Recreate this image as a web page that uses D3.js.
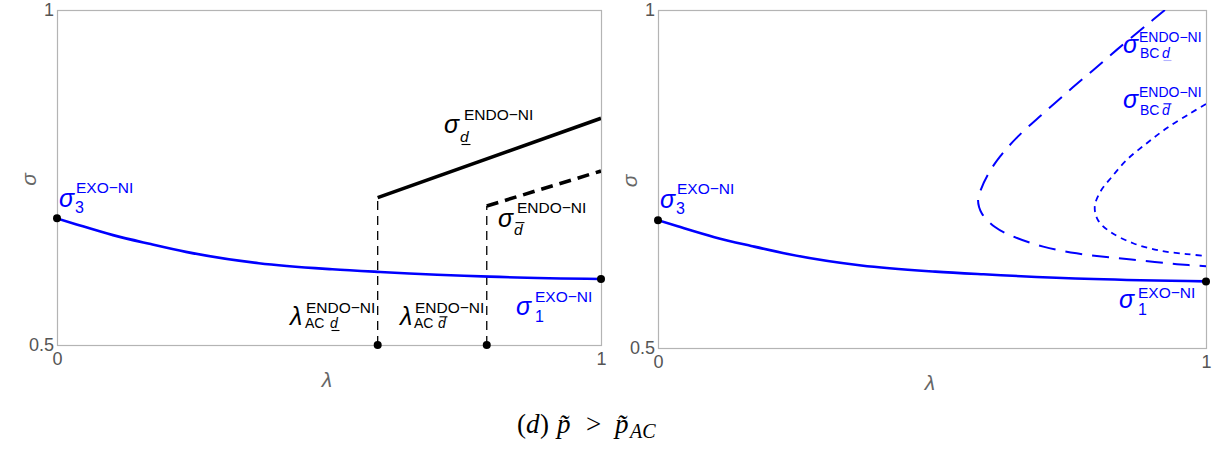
<!DOCTYPE html>
<html>
<head>
<meta charset="utf-8">
<script src="https://cdn.jsdelivr.net/npm/d3@7"></script>
<style>
  html, body { margin: 0; padding: 0; background: #ffffff; }
  svg { display: block; }
</style>
</head>
<body>
<script>
// ---------------- DATA ----------------
// Blue exogenous curve sigma^{EXO-NI} (same in both panels)
const lambdaExo = [0, 0.036, 0.103, 0.170, 0.237, 0.371, 0.506, 0.594, 0.795, 1];
const sigmaExo  = [0.689, 0.680, 0.664, 0.651, 0.639, 0.622, 0.613, 0.609, 0.602, 0.5985];

// Left panel: black endogenous lines
const lambdaDUnder = [0.5895, 1];
const sigmaDUnder  = [0.7199, 0.8384];
const lambdaDBar   = [0.790, 1];
const sigmaDBar    = [0.7075, 0.7597];

// Right panel: blue boundary curves
const lambdaBCd = [0.925, 0.892, 0.837, 0.794, 0.752, 0.703, 0.657, 0.624, 0.603, 0.589, 0.584, 0.591, 0.615, 0.648, 0.703, 0.764, 0.825, 0.886, 0.947, 1.0];
const sigmaBCd  = [1.000, 0.978, 0.941, 0.911, 0.882, 0.847, 0.813, 0.783, 0.758, 0.734, 0.719, 0.699, 0.679, 0.665, 0.650, 0.640, 0.634, 0.629, 0.624, 0.621];
const lambdaBCdBar = [1.0, 0.971, 0.928, 0.892, 0.855, 0.828, 0.807, 0.797, 0.803, 0.825, 0.867, 0.916, 0.965, 1.0];
const sigmaBCdBar  = [0.861, 0.847, 0.825, 0.803, 0.778, 0.753, 0.731, 0.709, 0.689, 0.672, 0.655, 0.644, 0.639, 0.636];

// Axis ticks
const xTicks = [0, 1];
const yTicks = [0.5, 1];
const xTickLabels = ["0", "1"];
const yTickLabels = ["0.5", "1"];
const xAxisTitle = "λ";
const yAxisTitle = "σ";

// ---------------- SETUP ----------------
const W = 1219, H = 450;
const BLUE = "#0000ff";
const SANS = "'Liberation Sans', Arial, Helvetica, sans-serif";
const SERIF = "'Liberation Serif', 'Times New Roman', serif";
const svg = d3.select("body").append("svg").attr("width", W).attr("height", H)
  .attr("viewBox", `0 0 ${W} ${H}`);
svg.append("rect").attr("width", W).attr("height", H).attr("fill", "#fff");

const panels = [
  { id: "L", x0: 57, x1: 601, y0: 10, y1: 345 },
  { id: "R", x0: 658, x1: 1206, y0: 10, y1: 348 }
];
panels.forEach(p => {
  p.x = d3.scaleLinear().domain([0, 1]).range([p.x0, p.x1]);
  p.y = d3.scaleLinear().domain([0.5, 1]).range([p.y1, p.y0]);
});

const defs = svg.append("defs");

function drawFrame(p) {
  svg.append("rect")
    .attr("x", p.x0 + 0.5).attr("y", p.y0 + 0.5)
    .attr("width", p.x1 - p.x0).attr("height", p.y1 - p.y0)
    .attr("fill", "none").attr("stroke", "#b4b4b4").attr("stroke-width", 1.2);
  defs.append("clipPath").attr("id", "clip" + p.id)
    .append("rect").attr("x", p.x0).attr("y", p.y0)
    .attr("width", p.x1 - p.x0).attr("height", p.y1 - p.y0);

  const ax = d3.axisBottom(p.x).tickValues(xTicks).tickSize(0).tickPadding(7)
    .tickFormat((d, i) => xTickLabels[i]);
  const gx = svg.append("g").attr("transform", `translate(0,${p.y1})`).call(ax);
  gx.select(".domain").remove();
  gx.selectAll("text").attr("font-family", SANS).attr("font-size", 18).attr("fill", "#555");

  const ay = d3.axisLeft(p.y).tickValues(yTicks).tickSize(0).tickPadding(3)
    .tickFormat((d, i) => yTickLabels[i]);
  const gy = svg.append("g").attr("transform", `translate(${p.x0},0)`).call(ay);
  gy.select(".domain").remove();
  gy.selectAll("text").attr("font-family", SANS).attr("font-size", 18).attr("fill", "#555");

  svg.append("text").text(xAxisTitle)
    .attr("x", (p.x0 + p.x1) / 2 - 2).attr("y", p.y1 + 42)
    .attr("text-anchor", "middle").attr("font-family", SANS).attr("font-style", "italic")
    .attr("font-size", 21).attr("fill", "#666");
  svg.append("text").text(yAxisTitle)
    .attr("transform", `translate(${p.x0 - 21},${(p.y0 + p.y1) / 2 + 2}) rotate(-90)`)
    .attr("text-anchor", "middle").attr("font-family", SANS).attr("font-style", "italic")
    .attr("font-size", 21).attr("fill", "#666");
}
panels.forEach(drawFrame);

function pts(lx, sy) { return lx.map((l, i) => [l, sy[i]]); }

const L = panels[0], R = panels[1];

// ---------------- LEFT PANEL ----------------
const gL = svg.append("g").attr("clip-path", "url(#clipL)");

[[lambdaDUnder[0], sigmaDUnder[0]], [lambdaDBar[0], sigmaDBar[0]]].forEach(d => {
  gL.append("line")
    .attr("x1", L.x(d[0])).attr("x2", L.x(d[0]))
    .attr("y1", L.y(0.5)).attr("y2", L.y(d[1]))
    .attr("stroke", "#000").attr("stroke-width", 1.3).attr("stroke-dasharray", "9,6");
});

gL.append("path").datum(pts(lambdaExo, sigmaExo))
  .attr("d", d3.line().x(d => L.x(d[0])).y(d => L.y(d[1])).curve(d3.curveMonotoneX))
  .attr("fill", "none").attr("stroke", BLUE).attr("stroke-width", 2.6);
gL.append("path").datum(pts(lambdaDUnder, sigmaDUnder))
  .attr("d", d3.line().x(d => L.x(d[0])).y(d => L.y(d[1])))
  .attr("fill", "none").attr("stroke", "#000").attr("stroke-width", 3.6);
gL.append("path").datum(pts(lambdaDBar, sigmaDBar))
  .attr("d", d3.line().x(d => L.x(d[0])).y(d => L.y(d[1])))
  .attr("fill", "none").attr("stroke", "#000").attr("stroke-width", 3.6)
  .attr("stroke-dasharray", "12,7");

const dotsL = [
  [lambdaExo[0], sigmaExo[0]], [lambdaExo[lambdaExo.length - 1], sigmaExo[sigmaExo.length - 1]],
  [lambdaDUnder[0], 0.5], [lambdaDBar[0], 0.5]
];
svg.append("g").selectAll("circle").data(dotsL).join("circle")
  .attr("cx", d => L.x(d[0])).attr("cy", d => L.y(d[1])).attr("r", 4).attr("fill", "#000");

// ---------------- RIGHT PANEL ----------------
const gR = svg.append("g").attr("clip-path", "url(#clipR)");
gR.append("path").datum(pts(lambdaExo, sigmaExo))
  .attr("d", d3.line().x(d => R.x(d[0])).y(d => R.y(d[1])).curve(d3.curveMonotoneX))
  .attr("fill", "none").attr("stroke", BLUE).attr("stroke-width", 2.6);
gR.append("path").datum(pts(lambdaBCd, sigmaBCd))
  .attr("d", d3.line().x(d => R.x(d[0])).y(d => R.y(d[1])).curve(d3.curveCatmullRom))
  .attr("fill", "none").attr("stroke", BLUE).attr("stroke-width", 2)
  .attr("stroke-dasharray", "17,10");
gR.append("path").datum(pts(lambdaBCdBar, sigmaBCdBar))
  .attr("d", d3.line().x(d => R.x(d[0])).y(d => R.y(d[1])).curve(d3.curveCatmullRom))
  .attr("fill", "none").attr("stroke", BLUE).attr("stroke-width", 1.8)
  .attr("stroke-dasharray", "6,5");
const dotsR = [[lambdaExo[0], sigmaExo[0]], [lambdaExo[lambdaExo.length - 1], sigmaExo[sigmaExo.length - 1]]];
svg.append("g").selectAll("circle").data(dotsR).join("circle")
  .attr("cx", d => R.x(d[0])).attr("cy", d => R.y(d[1])).attr("r", 4).attr("fill", "#000");

// ---------------- LABELS ----------------
function part(t, x, y, size, color, italic, decor) {
  const el = svg.append("text").text(t).attr("x", x).attr("y", y)
    .attr("font-family", SANS).attr("font-size", size).attr("fill", color)
    .attr("font-style", italic ? "italic" : "normal");
  if (decor) {
    const b = el.node().getBBox();
    const ly = decor.type === "under" ? y + 2.5 : y - size * 0.8;
    svg.append("line").attr("x1", b.x + 1.5).attr("x2", b.x + b.width + 0.5)
      .attr("y1", ly).attr("y2", ly)
      .attr("stroke", color).attr("stroke-width", 1.1)
      .attr("stroke-opacity", decor.opacity || 1);
  }
  return el;
}
function mathLabel(o) {
  const c = o.color;
  part(o.main, o.x, o.y, o.size || 25, c, true);
  part(o.sup, o.sx, o.sy, o.supSize || 15.5, c, false);
  (o.subs || []).forEach(s => part(s.t, s.x, s.y, s.size || 15.5, c, s.italic, s.decor));
}

const labels = [
  // left panel
  { main: "σ", x: 59, y: 207, color: BLUE, sup: "EXO−NI", sx: 76, sy: 193,
    subs: [{ t: "3", x: 75, y: 213, size: 16 }] },
  { main: "σ", x: 444, y: 133, color: "#000", sup: "ENDO−NI", sx: 464, sy: 120,
    subs: [{ t: "d", x: 460, y: 142, italic: true, decor: { type: "under" } }] },
  { main: "σ", x: 498, y: 227, color: "#000", sup: "ENDO−NI", sx: 517, sy: 213,
    subs: [{ t: "d", x: 514, y: 235, italic: true, decor: { type: "over" } }] },
  { main: "σ", x: 516, y: 315, color: BLUE, sup: "EXO−NI", sx: 535, sy: 302,
    subs: [{ t: "1", x: 535, y: 322, size: 16 }] },
  { main: "λ", x: 290, y: 325, color: "#000", sup: "ENDO−NI", sx: 306, sy: 313,
    subs: [{ t: "AC", x: 305, y: 328, size: 14 }, { t: "d", x: 330, y: 328, size: 14, italic: true, decor: { type: "under" } }] },
  { main: "λ", x: 400, y: 325, color: "#000", sup: "ENDO−NI", sx: 415, sy: 313,
    subs: [{ t: "AC", x: 414, y: 328, size: 14 }, { t: "d", x: 438, y: 328, size: 14, italic: true, decor: { type: "over" } }] },
  // right panel
  { main: "σ", x: 660, y: 208, color: BLUE, sup: "EXO−NI", sx: 677, sy: 194,
    subs: [{ t: "3", x: 676, y: 214, size: 16 }] },
  { main: "σ", x: 1119, y: 308, color: BLUE, sup: "EXO−NI", sx: 1138, sy: 298,
    subs: [{ t: "1", x: 1138, y: 315, size: 16 }] },
  { main: "σ", x: 1123, y: 53, color: BLUE, sup: "ENDO−NI", sx: 1139, sy: 42, supSize: 14,
    subs: [{ t: "BC", x: 1140, y: 58, size: 14 }, { t: "d", x: 1162, y: 58, size: 14, italic: true, decor: { type: "under", opacity: 0.3 } }] },
  { main: "σ", x: 1123, y: 108, color: BLUE, sup: "ENDO−NI", sx: 1139, sy: 97, supSize: 14,
    subs: [{ t: "BC", x: 1140, y: 115, size: 14 }, { t: "d", x: 1162, y: 115, size: 14, italic: true, decor: { type: "over" } }] }
];
labels.forEach(mathLabel);

// ---------------- CAPTION ----------------
const capParts = [
  { t: "(", x: 517, y: 433, it: false },
  { t: "d", x: 526, y: 433, it: true },
  { t: ")", x: 540, y: 433, it: false },
  { t: "p\u0303", x: 557, y: 433, it: true },
  { t: ">", x: 586, y: 433, it: false },
  { t: "p\u0303", x: 615, y: 433, it: true },
  { t: "AC", x: 630, y: 438, it: true, size: 20 }
];
capParts.forEach(c => {
  svg.append("text").text(c.t).attr("x", c.x).attr("y", c.y)
    .attr("font-family", SERIF).attr("font-size", c.size || 27)
    .attr("font-style", c.it ? "italic" : "normal").attr("fill", "#000");
});
</script>
</body>
</html>
